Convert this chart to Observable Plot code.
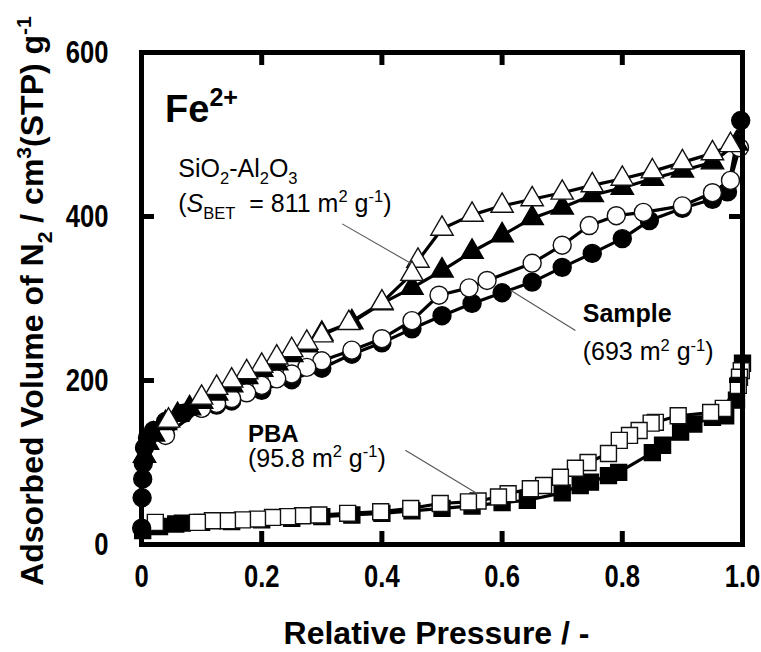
<!DOCTYPE html>
<html><head><meta charset="utf-8">
<script src="https://cdn.jsdelivr.net/npm/d3@7"></script>
<script src="https://cdn.jsdelivr.net/npm/@observablehq/plot@0.6"></script>
<style>body{margin:0;background:#fff} svg text{white-space:pre}</style>
</head><body><div id="chart"></div>
<script>
// ---- tick definitions ----
const xTicks = [0, 0.2, 0.4, 0.6, 0.8, 1.0];
const xTickLabels = ["0", "0.2", "0.4", "0.6", "0.8", "1.0"];
const xInnerTicks = [0.2, 0.4, 0.6, 0.8];
const yTicks = [0, 200, 400, 600];
const yTickLabels = ["0", "200", "400", "600"];
const yInnerTicks = [200, 400];

// ---- SiO2-Al2O3 ----
const sioAdsP = [0.005, 0.01, 0.02, 0.04, 0.06, 0.08, 0.1, 0.125, 0.15, 0.175, 0.2, 0.225, 0.25, 0.275, 0.3, 0.35, 0.4, 0.45, 0.5, 0.55, 0.6, 0.65, 0.7, 0.75, 0.8, 0.85, 0.9, 0.95, 0.99];
const sioAdsV = [108, 124, 134, 148, 158, 166, 174, 184, 194, 204, 213, 221, 231, 243, 257, 271, 294, 313, 334, 357, 377, 398, 411, 426, 435, 446, 456, 466, 489];
const sioDesP = [0.98, 0.95, 0.9, 0.85, 0.8, 0.75, 0.7, 0.65, 0.6, 0.55, 0.5, 0.46, 0.45, 0.4, 0.345, 0.3, 0.275, 0.25, 0.225, 0.2, 0.175, 0.15, 0.125, 0.1, 0.045];
const sioDesV = [487, 477, 466, 455, 446, 438, 429, 421, 413, 402, 385, 346, 330, 295, 270, 255, 246, 237, 228, 218, 210, 200, 191, 179, 151];

// ---- Sample ----
const smpAdsP = [0.0003, 0.001, 0.002, 0.003, 0.005, 0.01, 0.02, 0.04, 0.07, 0.1, 0.125, 0.15, 0.2, 0.25, 0.3, 0.35, 0.4, 0.45, 0.5, 0.55, 0.6, 0.65, 0.7, 0.75, 0.8, 0.845, 0.9, 0.95, 0.975, 0.997];
const smpAdsV = [20, 57, 80, 99, 118, 130, 139, 150, 160, 166, 170, 175, 188, 201, 215, 232, 246, 263, 279, 294, 307, 320, 338, 355, 373, 395, 410, 421, 430, 517];
const smpDesP = [0.995, 0.98, 0.95, 0.9, 0.835, 0.79, 0.745, 0.7, 0.65, 0.575, 0.545, 0.495, 0.45, 0.4, 0.35, 0.3, 0.275, 0.25, 0.225, 0.2, 0.175, 0.15, 0.125, 0.1, 0.04];
const smpDesV = [484, 444, 429, 413, 405, 401, 389, 365, 343, 322, 313, 304, 273, 251, 237, 224, 216, 208, 202, 194, 185, 178, 172, 166, 133];

// ---- PBA ----
const pbaAdsP = [0.002, 0.03, 0.057, 0.068, 0.1, 0.15, 0.2, 0.25, 0.3, 0.35, 0.4, 0.45, 0.5, 0.55, 0.6, 0.642, 0.7, 0.73, 0.747, 0.777, 0.794, 0.85, 0.867, 0.897, 0.919, 0.95, 0.972, 0.99, 1.0];
const pbaAdsV = [17, 22, 25, 26, 27, 28, 30, 32, 34, 36, 38, 41, 44, 47, 51, 54, 63, 72, 76, 84, 88, 112, 121, 137, 147, 155, 157, 176, 221];
const pbaDesP = [0.998, 0.995, 0.993, 0.968, 0.947, 0.893, 0.855, 0.848, 0.828, 0.812, 0.795, 0.777, 0.743, 0.722, 0.697, 0.669, 0.647, 0.61, 0.594, 0.56, 0.544, 0.497, 0.448, 0.398, 0.343, 0.295, 0.268, 0.243, 0.218, 0.193, 0.168, 0.143, 0.118, 0.093, 0.023];
const pbaDesV = [212, 204, 194, 166, 161, 157, 149, 148, 139, 133, 127, 111, 100, 93, 82, 72, 68, 62, 58, 53, 52, 50, 44, 40, 38, 36, 35, 34, 33, 31, 30, 29, 29, 27, 27];

const rows = (P, V) => P.map((p, i) => ({p, v: V[i]}));

const W = 761, H = 652, mL = 141, mR = 19, mT = 52, mB = 108;
const plotW = W - mL - mR, plotH = H - mT - mB;
const tickLen = 13;

function series(P, V, symbol, filled, r) {
  const d = rows(P, V);
  return [
    Plot.line(d, {x: "p", y: "v", stroke: "#000", strokeWidth: 3.2}),
    Plot.dot(d, {x: "p", y: "v", symbol, r, fill: filled ? "#000" : "#fff", stroke: filled ? "#000" : "#111", strokeWidth: 1.4})
  ];
}

const chart = Plot.plot({
  width: W, height: H,
  marginLeft: mL, marginRight: mR, marginTop: mT, marginBottom: mB,
  x: {domain: [0, 1]},
  y: {domain: [0, 600]},
  style: {fontFamily: "'Liberation Sans', Arial, sans-serif", background: "#fff", color: "#000"},
  marks: [
    Plot.axisX(xTicks, {anchor: "bottom", tickSize: 0, tickPadding: 20, fontSize: 32, fontWeight: "bold",
      tickFormat: d => xTickLabels[xTicks.indexOf(d)], label: null}),
    Plot.axisY(yTicks, {anchor: "left", tickSize: 0, tickPadding: 33, fontSize: 32, fontWeight: "bold",
      tickFormat: d => yTickLabels[yTicks.indexOf(d)], label: null}),
    ...series(pbaAdsP, pbaAdsV, "square", true, 9),
    ...series(pbaDesP, pbaDesV, "square", false, 9),
    ...series(smpAdsP, smpAdsV, "circle", true, 9),
    ...series(smpDesP, smpDesV, "circle", false, 9),
    ...series(sioAdsP, sioAdsV, "triangle", true, 8.3),
    ...series(sioDesP, sioDesV, "triangle", false, 8.3),
    Plot.tickX(xInnerTicks, {x: d => d, insetTop: plotH - tickLen, strokeWidth: 5}),
    Plot.tickX(xInnerTicks, {x: d => d, insetBottom: plotH - tickLen, strokeWidth: 5}),
    Plot.tickY(yInnerTicks, {y: d => d, insetRight: plotW - tickLen, strokeWidth: 5}),
    Plot.tickY(yInnerTicks, {y: d => d, insetLeft: plotW - tickLen, strokeWidth: 5}),
    Plot.frame({stroke: "#000", strokeWidth: 5}),
    // leader lines (data coordinates)
    Plot.link([{x1: 0.334, y1: 391, x2: 0.448, y2: 343}, {x1: 0.614, y1: 310, x2: 0.722, y2: 261}, {x1: 0.439, y1: 115, x2: 0.559, y2: 62}],
      {x1: "x1", y1: "y1", x2: "x2", y2: "y2", stroke: "#555", strokeWidth: 1.1})
  ]
});
document.getElementById("chart").appendChild(chart);

// condense tick labels horizontally (the reference uses a narrow bold face)
d3.select(chart).selectAll('g[aria-label="x-axis tick label"] text, g[aria-label="y-axis tick label"] text').each(function() {
  const el = d3.select(this);
  const tr = el.attr("transform");
  if (tr) {
    el.attr("transform", tr + " scale(0.8,1)");
  } else {
    const x = +el.attr("x") || 0, y = +el.attr("y") || 0;
    el.attr("transform", `translate(${x},${y}) scale(0.8,1) translate(${-x},${-y})`);
  }
});

const sx = chart.scale("x"), sy = chart.scale("y");
const svg = d3.select(chart);
const FONT = "'Liberation Sans', Arial, sans-serif";

function rich(x, y, parts, opts = {}) {
  const fs = opts.size || 26;
  const t = svg.append("text")
    .attr("x", x).attr("y", y)
    .attr("font-family", opts.family || FONT)
    .attr("font-size", fs)
    .attr("font-weight", opts.bold ? "bold" : "normal")
    .attr("text-anchor", opts.anchor || "start")
    .attr("fill", "#000");
  if (opts.rotate) t.attr("transform", `rotate(${opts.rotate},${x},${y})`);
  let shift = 0;
  for (const part of parts) {
    const small = part.sub || part.sup;
    const s = part.sub ? fs * 0.28 : part.sup ? -fs * (part.supShift || 0.38) : 0;
    const ts = t.append("tspan").attr("dy", s - shift).attr("font-size", small ? fs * (part.scale || 0.66) : fs).text(part.t);
    if (part.italic) ts.attr("font-style", "italic");
    shift = s;
  }
  return t;
}

// Axis titles
rich(mL + plotW / 2 - 5, 644, [{t: "Relative Pressure / -"}], {size: 32, bold: true, anchor: "middle"});
rich(43, mT + plotH / 2 + 3, [
  {t: "Adsorbed Volume of N"}, {t: "2", sub: true}, {t: " / cm"}, {t: "3", sup: true}, {t: "(STP) g"}, {t: "-1", sup: true}
], {size: 32, bold: true, anchor: "middle", rotate: -90});

// Annotations (anchored in data coordinates)
rich(sx.apply(0.04), sy.apply(515), [{t: "Fe"}, {t: "2+", sup: true, scale: 0.66, supShift: 0.42}], {size: 38, bold: true});
rich(sx.apply(0.062), sy.apply(448), [{t: "SiO"}, {t: "2", sub: true}, {t: "-Al"}, {t: "2", sub: true}, {t: "O"}, {t: "3", sub: true}], {size: 25});
rich(sx.apply(0.062), sy.apply(405), [{t: "("}, {t: "S", italic: true}, {t: "BET", sub: true}, {t: "  = 811 m"}, {t: "2", sup: true}, {t: " g"}, {t: "-1", sup: true}, {t: ")"}], {size: 25});
rich(sx.apply(0.735), sy.apply(271), [{t: "Sample"}], {size: 25, bold: true});
rich(sx.apply(0.735), sy.apply(224), [{t: "(693 m"}, {t: "2", sup: true}, {t: " g"}, {t: "-1", sup: true}, {t: ")"}], {size: 25});
rich(sx.apply(0.178), sy.apply(125), [{t: "PBA"}], {size: 24, bold: true});
rich(sx.apply(0.178), sy.apply(94), [{t: "(95.8 m"}, {t: "2", sup: true}, {t: " g"}, {t: "-1", sup: true}, {t: ")"}], {size: 25});
</script>
</body></html>
